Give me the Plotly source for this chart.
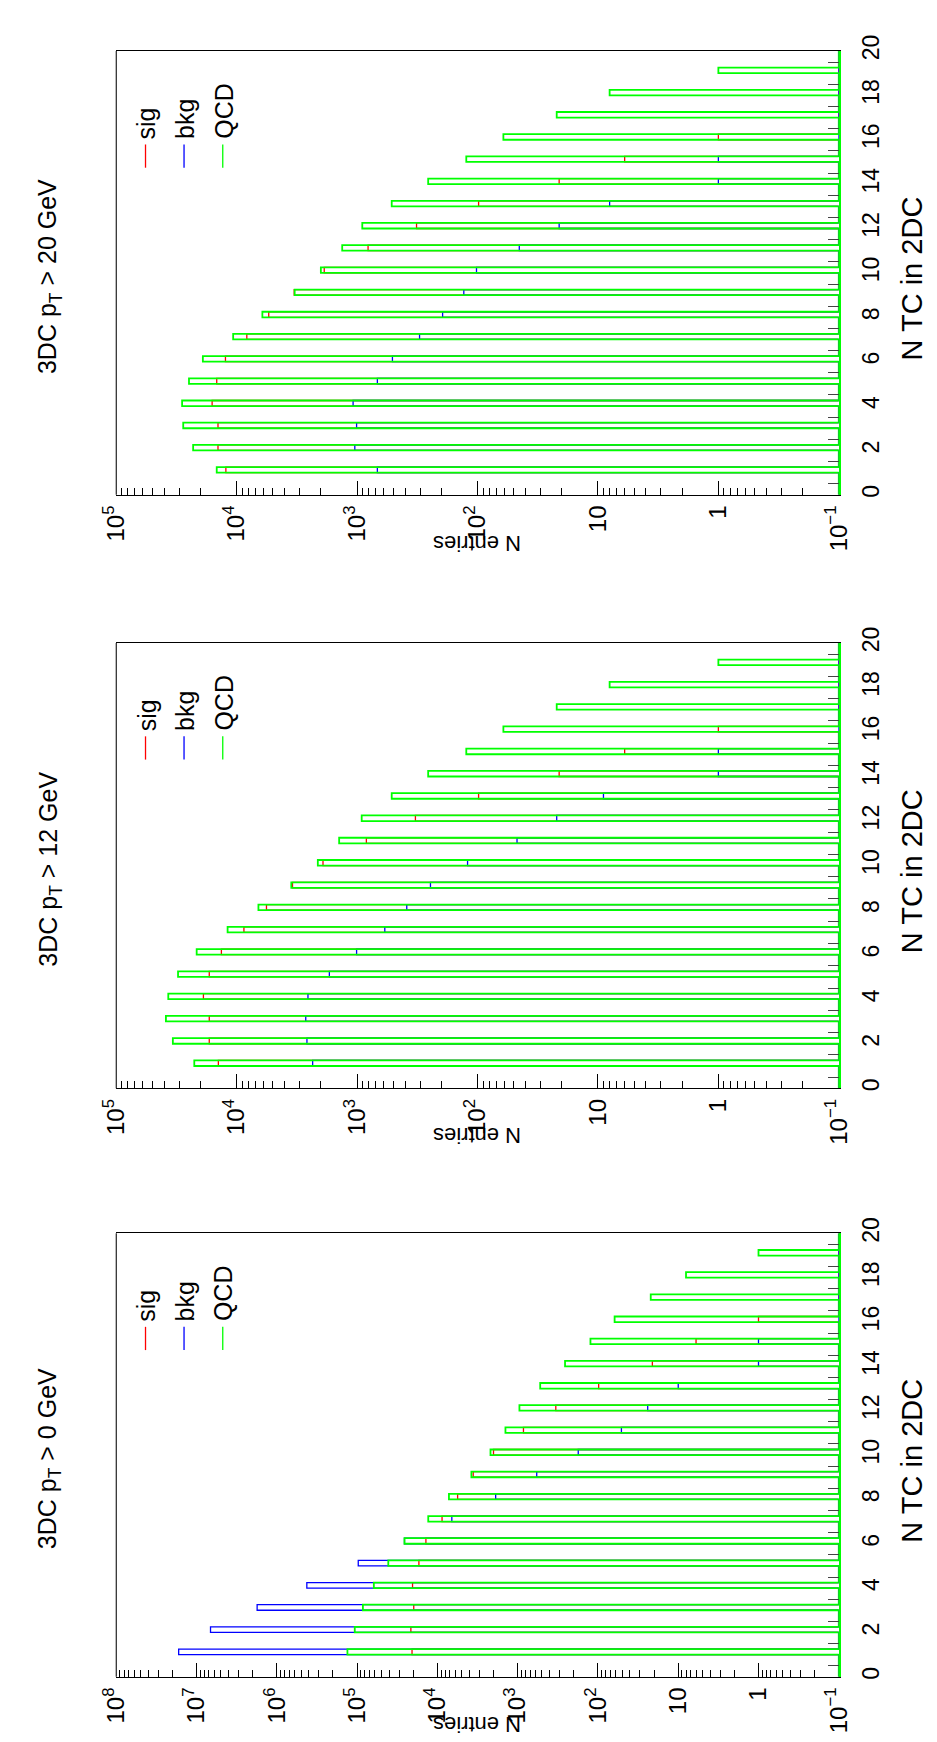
import plotly.graph_objects as go

# ---------------- data (N TC in 2DC, entries per bin) ----------------
n_tc = [1, 2, 3, 4, 5, 6, 7, 8, 9, 10, 11, 12, 13, 14, 15, 16, 17, 18, 19]
bin_width = 0.25

# 3DC pT > 20 GeV
pt20_sig = [12300, 14300, 14300, 16000, 14650, 12400, 8240, 5420, 3330, 1875, 811, 321, 98, 21, 6, 1, 0, 0, 0]
pt20_bkg = [679, 1045, 1010, 1080, 679, 509, 303, 195, 130, 102, 45, 21, 8, 1, 1, 0, 0, 0, 0]
pt20_qcd = [14650, 23000, 27800, 28400, 24900, 19100, 10700, 6120, 3300, 2000, 1330, 906, 516, 257, 124, 61, 22, 8, 1]

# 3DC pT > 12 GeV
pt12_sig = [14200, 16900, 16900, 18900, 16900, 13400, 8710, 5660, 3440, 1920, 838, 328, 98, 21, 6, 1, 0, 0, 0]
pt12_bkg = [2340, 2610, 2670, 2560, 1700, 1010, 589, 387, 246, 121, 47, 22, 9, 1, 1, 0, 0, 0, 0]
pt12_qcd = [22500, 33900, 38700, 37000, 30700, 21500, 11900, 6600, 3520, 2120, 1410, 916, 516, 257, 124, 61, 22, 8, 1]

# 3DC pT > 0 GeV
pt0_sig = [20700, 21400, 19700, 20400, 17000, 13900, 8750, 5600, 3580, 2000, 847, 335, 98, 21, 6, 1, 0, 0, 0]
pt0_bkg = [16700000, 6700000, 1760000, 423000, 96800, 25700, 6610, 1880, 579, 176, 51, 24, 10, 1, 1, 0, 0, 0, 0]
pt0_qcd = [132000, 107000, 84700, 61900, 40900, 25700, 13000, 7180, 3770, 2180, 1420, 951, 524, 257, 124, 62, 22, 8, 1]

titles = ["3DC p<sub>T</sub> &gt; 20 GeV", "3DC p<sub>T</sub> &gt; 12 GeV", "3DC p<sub>T</sub> &gt; 0 GeV"]
log_max = [5, 5, 8]
log_min = -1
series_names = ["sig", "bkg", "QCD"]
series_colors = ["#ff0000", "#0000ff", "#00ff00"]
series_widths = [1.3, 1.3, 1.8]
panels = [
    (pt20_sig, pt20_bkg, pt20_qcd),
    (pt12_sig, pt12_bkg, pt12_qcd),
    (pt0_sig, pt0_bkg, pt0_qcd),
]

# ---------------- layout geometry (pixels) ----------------
W, H = 937, 1742
FONT = "Liberation Sans, Arial, Helvetica, sans-serif"
frame_x0, frame_x1 = 94.3, 840.7
frame_tops = [27.3, 625.7, 1222.7]
frame_bots = [476.0, 1076.0, 1671.0]


def px(x):
    return x / W


def py(y):
    return 1 - y / H


def tick_text(e):
    if e == 0:
        return "1"
    if e == 1:
        return "10"
    s = str(e).replace("-", "\u2212")
    return "10<sup>" + s + "</sup>"


fig = go.Figure()
layout = dict(
    width=W, height=H, autosize=False,
    margin=dict(l=0, r=0, t=0, b=0),
    paper_bgcolor="white", plot_bgcolor="white",
    showlegend=False,
    font=dict(family=FONT, color="black"),
)
annotations = []
shapes = []

base = 10.0 ** log_min
for i, (vals3, top, bot, ttl, lmax) in enumerate(zip(panels, frame_tops, frame_bots, titles, log_max)):
    s = "" if i == 0 else str(i + 1)
    # histogram step outlines (sig, bkg, QCD drawn in that order)
    for vals, name, col, lw in zip(vals3, series_names, series_colors, series_widths):
        xs, ys = [base], [0]
        for n, v in zip(n_tc, vals):
            if v <= 0:
                continue
            xs += [base, v, v, base]
            ys += [n, n, n + bin_width, n + bin_width]
        xs.append(base)
        ys.append(20)
        fig.add_trace(go.Scatter(
            x=xs, y=ys, mode="lines", name=name,
            line=dict(color=col, width=lw),
            xaxis="x" + s, yaxis="y" + s, showlegend=False, hoverinfo="skip",
        ))

    major = [10.0 ** e for e in range(log_min, lmax + 1)]
    minor = [k * 10.0 ** e for e in range(log_min, lmax) for k in range(2, 10)]
    layout["xaxis" + s] = dict(
        type="log", range=[lmax, log_min], domain=[px(frame_x0), px(frame_x1)],
        anchor="y" + s, side="bottom",
        showline=True, mirror=True, linecolor="black", linewidth=1.2,
        tickmode="array", tickvals=major, ticktext=[tick_text(e) for e in range(log_min, lmax + 1)],
        ticks="inside", ticklen=14, tickwidth=1, tickcolor="black",
        tickangle=-90, tickfont=dict(size=24, family=FONT, color="black"),
        minor=dict(tickmode="array", tickvals=minor, ticks="inside", ticklen=7,
                   tickwidth=1, tickcolor="black", showgrid=False),
        showgrid=False, zeroline=False, fixedrange=True,
    )
    layout["yaxis" + s] = dict(
        range=[0, 20], domain=[py(bot), py(top)], anchor="x" + s, side="right",
        showline=True, mirror=False, linecolor="#00ff00", linewidth=1.8,
        tickmode="array", tickvals=list(range(0, 21, 2)), ticktext=[str(v) for v in range(0, 21, 2)],
        ticks="", tickangle=-90, tickfont=dict(size=23, family=FONT, color="black"),
        ticklabelstandoff=11,
        minor=dict(tickmode="array", tickvals=[k + 0.5 for k in range(20)], ticks="inside",
                   ticklen=11, tickwidth=1, tickcolor="#444444", showgrid=False),
        showgrid=False, zeroline=False, fixedrange=True,
    )
    # left frame edge
    shapes.append(dict(type="line", xref="paper", yref="paper",
                       x0=px(frame_x0), x1=px(frame_x0), y0=py(bot), y1=py(top),
                       line=dict(color="#222222", width=1.2)))
    mid = (top + bot) / 2
    # panel title
    annotations.append(dict(text=ttl, x=px(25), y=py(mid + 4), xref="paper", yref="paper",
                            textangle=-90, showarrow=False, xanchor="center", yanchor="middle",
                            font=dict(size=25, family=FONT, color="black")))
    # x-axis title (original) on the right
    annotations.append(dict(text="N TC in 2DC", x=px(916), y=py(mid + 6), xref="paper", yref="paper",
                            textangle=-90, showarrow=False, xanchor="center", yanchor="middle",
                            font=dict(size=29, family=FONT, color="black")))
    # y-axis title (original), upside down
    annotations.append(dict(text="N entries", x=px(467), y=py(bot + 48.5), xref="paper", yref="paper",
                            textangle=180, showarrow=False, xanchor="center", yanchor="middle",
                            font=dict(size=22, family=FONT, color="black")))
    # legend
    for name, col, lx in zip(series_names, series_colors, [124.5, 164.3, 204.3]):
        annotations.append(dict(text=name, x=px(lx + 1), y=py(top + 91), xref="paper", yref="paper",
                                textangle=-90, showarrow=False, xanchor="center", yanchor="bottom",
                                font=dict(size=25, family=FONT, color="black")))
        shapes.append(dict(type="line", xref="paper", yref="paper",
                           x0=px(lx), x1=px(lx), y0=py(top + 94.5), y1=py(top + 118),
                           line=dict(color=col, width=1.3)))

layout["annotations"] = annotations
layout["shapes"] = shapes
fig.update_layout(**layout)
fig.write_html("out.html")
